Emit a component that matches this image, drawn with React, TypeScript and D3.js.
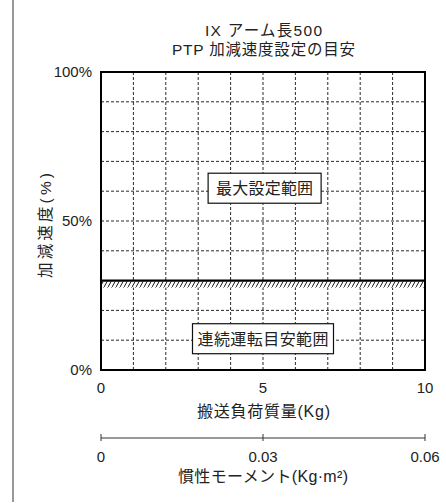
import React from "react";
import * as d3 from "d3";

const titleLines = ["IX アーム長500", "PTP 加減速度設定の目安"];
const massDomain = [0, 10];
const massTicks = [0, 5, 10];
const massGrid = [1, 2, 3, 4, 5, 6, 7, 8, 9];
const accelDomain = [0, 100];
const accelTicks = [0, 50, 100];
const accelGrid = [10, 20, 30, 40, 50, 60, 70, 80, 90];
const inertiaDomain = [0, 0.06];
const inertiaTicks = [0, 0.03, 0.06];
const inertiaTickLabels = ["0", "0.03", "0.06"];
const continuousLimit = 30;
const regionLabels = [
  { text: "最大設定範囲", x: 5.05, y: 61 },
  { text: "連続運転目安範囲", x: 5.0, y: 10.5 },
];
const xTitle = "搬送負荷質量(Kg)";
const yTitle = "加減速度(%)";
const inertiaTitle = "慣性モーメント(Kg·m²)";

const FONT = "'Liberation Sans', 'Noto Sans CJK JP', sans-serif";

export default function App() {
  const W = 446, H = 503;
  const left = 101, right = 425, top = 72, bottom = 370;
  const x = d3.scaleLinear().domain(massDomain).range([left, right]);
  const y = d3.scaleLinear().domain(accelDomain).range([bottom, top]);
  const xi = d3.scaleLinear().domain(inertiaDomain).range([left, right]);
  const inertiaY = 438;
  const limitY = y(continuousLimit);
  const titleW = [117, 183];
  const labelW = [97, 131];
  const boxW = [113, 141];

  return (
    <svg width={W} height={H} style={{ position: "absolute", left: 0, top: 0, background: "#fff" }} fontFamily={FONT}>
      <defs>
        <pattern id="hatch" width="4" height="7" patternUnits="userSpaceOnUse">
          <line x1="0" y1="7" x2="4" y2="0" stroke="#000" strokeWidth="0.9" />
        </pattern>
      </defs>
      <rect x={0} y={0} width={W} height={H} fill="#fff" />
      <line x1={13} y1={0} x2={13} y2={502} stroke="#777" strokeWidth={1.5} />
      {titleLines.map((t, i) => (
        <text key={i} x={263.5} y={35.5 + i * 19.5} textAnchor="middle" fontSize={15.5} fill="#222"
          textLength={titleW[i]} lengthAdjust="spacing">{t}</text>
      ))}
      {/* grid */}
      {massGrid.map((v) => (
        <line key={"gx" + v} x1={x(v)} x2={x(v)} y1={top} y2={bottom} stroke="#111" strokeWidth={0.9} strokeDasharray="3,2" />
      ))}
      {accelGrid.map((v) => (
        <line key={"gy" + v} x1={left} x2={right} y1={y(v)} y2={y(v)} stroke="#111" strokeWidth={0.9} strokeDasharray="3,2" />
      ))}
      {/* hatch band */}
      <rect x={left} y={limitY + 1} width={right - left} height={6} fill="#fff" />
      <rect x={left} y={limitY + 1} width={right - left} height={6} fill="url(#hatch)" />
      <line x1={left} x2={right} y1={limitY} y2={limitY} stroke="#000" strokeWidth={2.2} />
      {/* frame */}
      <rect x={left} y={top} width={right - left} height={bottom - top} fill="none" stroke="#000" strokeWidth={2} />
      {/* region labels */}
      {regionLabels.map((r, i) => {
        const w = boxW[i];
        const cx = x(r.x), cy = y(r.y);
        return (
          <g key={i}>
            <rect x={cx - w / 2} y={cy - 15} width={w} height={30} fill="#fff" stroke="#111" strokeWidth={1.2} />
            <text x={cx} y={cy + 6} textAnchor="middle" fontSize={16} fill="#222"
              textLength={labelW[i]} lengthAdjust="spacing">{r.text}</text>
          </g>
        );
      })}
      {/* y tick labels */}
      {accelTicks.map((v) => (
        <text key={"yt" + v} x={92} y={y(v) + 5} textAnchor="end" fontSize={15} fill="#222">{v + "%"}</text>
      ))}
      <text transform={`translate(51,225.5) rotate(-90)`} textAnchor="middle" fontSize={15.5} fill="#222"
        textLength={105} lengthAdjust="spacing">{yTitle}</text>
      {/* x tick labels */}
      {massTicks.map((v) => (
        <text key={"xt" + v} x={x(v)} y={393} textAnchor="middle" fontSize={15} fill="#222">{v}</text>
      ))}
      <text x={263.5} y={417} textAnchor="middle" fontSize={16} fill="#222"
        textLength={133} lengthAdjust="spacing">{xTitle}</text>
      {/* inertia axis */}
      <line x1={xi(inertiaDomain[0])} x2={xi(inertiaDomain[1])} y1={inertiaY} y2={inertiaY} stroke="#333" strokeWidth={1} />
      {inertiaTicks.map((v, i) => (
        <g key={"it" + i}>
          <line x1={xi(v)} x2={xi(v)} y1={inertiaY - 4} y2={inertiaY + 3} stroke="#333" strokeWidth={1} />
          <text x={xi(v)} y={462} textAnchor="middle" fontSize={15} fill="#222">{inertiaTickLabels[i]}</text>
        </g>
      ))}
      <text x={263} y={482} textAnchor="middle" fontSize={16} fill="#222"
        textLength={170} lengthAdjust="spacing">{inertiaTitle}</text>
    </svg>
  );
}
